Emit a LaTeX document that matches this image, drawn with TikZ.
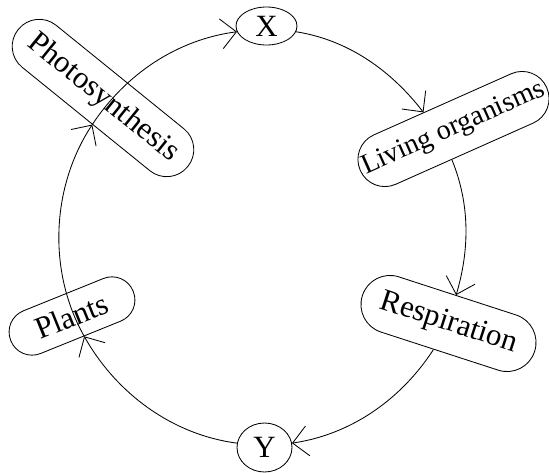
\documentclass[tikz,border=0pt]{standalone}
\usepackage{fontspec}
\setmainfont{Liberation Serif}
\usepackage{tikz}
\usetikzlibrary{arrows.meta}
\usetikzlibrary{shapes.geometric}

\tikzset{
  oval/.style={rectangle, draw=black, inner sep=0pt, rounded corners=#1, font=\fontsize{22}{26}\selectfont},
  letter/.style={ellipse, draw=black, inner sep=0pt, font=\fontsize{22}{26}\selectfont},
  cyc/.style={-{Straight Barb[length=3.8mm, width=7.5mm]}, draw=black, looseness=0.9}
}

\begin{document}
\begin{tikzpicture}[line width=0.6pt]
\useasboundingbox (0, 0) rectangle (13.725, -11.825);
\node [letter, minimum width=1.525cm, minimum height=0.95cm] (X) at (6.6625, -0.65) {X};
\node [letter, minimum width=1.375cm, minimum height=1.225cm] (Y) at (6.6125, -11.1875) {Y};
\node [oval=0.67cm, minimum width=5.45cm, minimum height=1.35cm, rotate=-39] (Ph) at (2.575, -2.45) {Photosynthesis};
\node [oval=0.67cm, minimum width=5.1cm, minimum height=1.35cm, rotate=24, font=\fontsize{20}{24}\selectfont] (Lo) at (11.3375, -3.225) {Living organisms};
\node [oval=0.72cm, minimum width=4.525cm, minimum height=1.45cm, rotate=-18] (Re) at (11.2125, -8.0875) {Respiration};
\node [oval=0.57cm, minimum width=3.3cm, minimum height=1.15cm, rotate=22] (Pl) at (1.8, -7.9) {Plants};
% the cycle
\draw [cyc] (Pl.-81) to [out=119.5, in=236.6] (Ph.-73);
\draw [cyc] (Ph.-73) to [out=56.6, in=187.5] (X.191);
\draw [cyc] (X.-11) to [out=-9, in=127.7] (Lo.127);
\draw [cyc] (Lo.-117) to [out=-67.7, in=73.4] (Re.93);
\draw [cyc] (Re.-102) to [out=-123, in=8.3] (Y.9);
\draw [cyc] (Y.171) to [out=172.5, in=-60.5] (Pl.-81);
\end{tikzpicture}
\end{document}
